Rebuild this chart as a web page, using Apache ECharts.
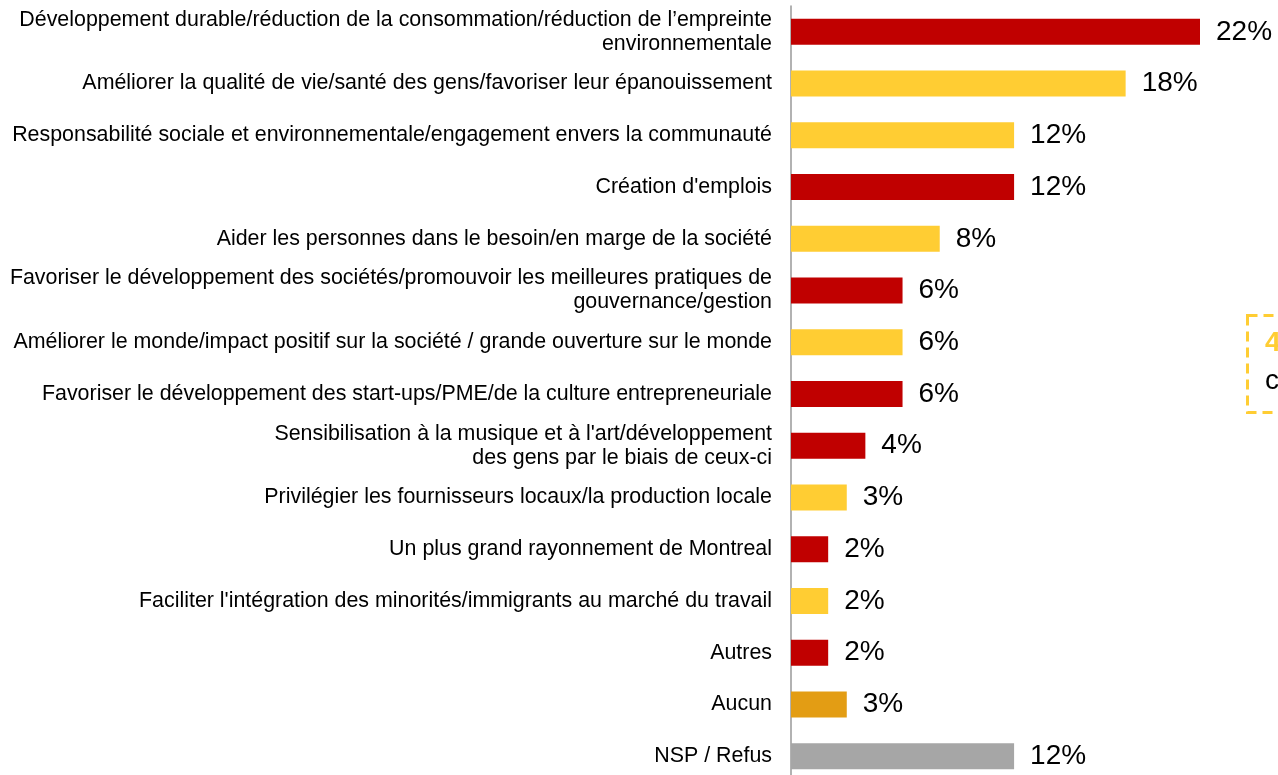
<!DOCTYPE html>
<html>
<head>
<meta charset="utf-8">
<script src="https://cdn.jsdelivr.net/npm/echarts@6/dist/echarts.min.js"></script>
<style>
html,body{margin:0;padding:0;background:#fff;overflow:hidden;}
#chart{width:1278px;height:775px;}
</style>
</head>
<body>
<div id="chart"></div>
<script>
const categories = [
  "Développement durable/réduction de la consommation/réduction de l’empreinte\nenvironnementale",
  "Améliorer la qualité de vie/santé des gens/favoriser leur épanouissement",
  "Responsabilité sociale et environnementale/engagement envers la communauté",
  "Création d'emplois",
  "Aider les personnes dans le besoin/en marge de la société",
  "Favoriser le développement des sociétés/promouvoir les meilleures pratiques de\ngouvernance/gestion",
  "Améliorer le monde/impact positif sur la société / grande ouverture sur le monde",
  "Favoriser le développement des start-ups/PME/de la culture entrepreneuriale",
  "Sensibilisation à la musique et à l'art/développement\ndes gens par le biais de ceux-ci",
  "Privilégier les fournisseurs locaux/la production locale",
  "Un plus grand rayonnement de Montreal",
  "Faciliter l'intégration des minorités/immigrants au marché du travail",
  "Autres",
  "Aucun",
  "NSP / Refus"
];
const values = [22, 18, 12, 12, 8, 6, 6, 6, 4, 3, 2, 2, 2, 3, 12];
const colorKeys = ["red","yellow","yellow","red","yellow","red","yellow","red","red","yellow","red","yellow","red","orange","gray"];
const palette = {red:"#C00000", yellow:"#FFCD33", orange:"#E39D14", gray:"#A6A6A6"};

const chart = echarts.init(document.getElementById('chart'), null, {renderer:'canvas'});
const FONT = "'Liberation Sans', Arial, sans-serif";
chart.setOption({
  animation:false,
  backgroundColor:'#fff',
  grid:{left:791, right:78, top:6, bottom:-7, containLabel:false, outerBoundsMode:'none'},
  xAxis:{type:'value', min:0, max:22, show:false},
  yAxis:{
    type:'category', inverse:true, data:categories,
    axisLine:{show:true, lineStyle:{color:'#999', width:1.5}},
    axisTick:{show:false},
    axisLabel:{fontSize:21.4, color:'#000', fontFamily:FONT, lineHeight:24, margin:19, align:'right', interval:0}
  },
  series:[{
    type:'bar', barWidth:26,
    data: values.map((v,i)=>({value:v, itemStyle:{color:palette[colorKeys[i]]}})),
    label:{show:true, position:'right', distance:16, formatter:'{c}%', fontSize:28, color:'#000', fontFamily:FONT}
  }],
  graphic:[
    {type:'rect', left:1245, top:313, shape:{width:100, height:97}, style:{fill:'none', stroke:'#FFCD33', lineWidth:3, lineDash:[10,6]}},
    {type:'text', left:1265, top:329, style:{text:'4', fill:'#FFCD33', font:"bold 28px 'Liberation Sans', Arial, sans-serif"}},
    {type:'text', left:1265, top:367, style:{text:'c', fill:'#000', font:"28px 'Liberation Sans', Arial, sans-serif"}}
  ]
});
</script>
</body>
</html>
